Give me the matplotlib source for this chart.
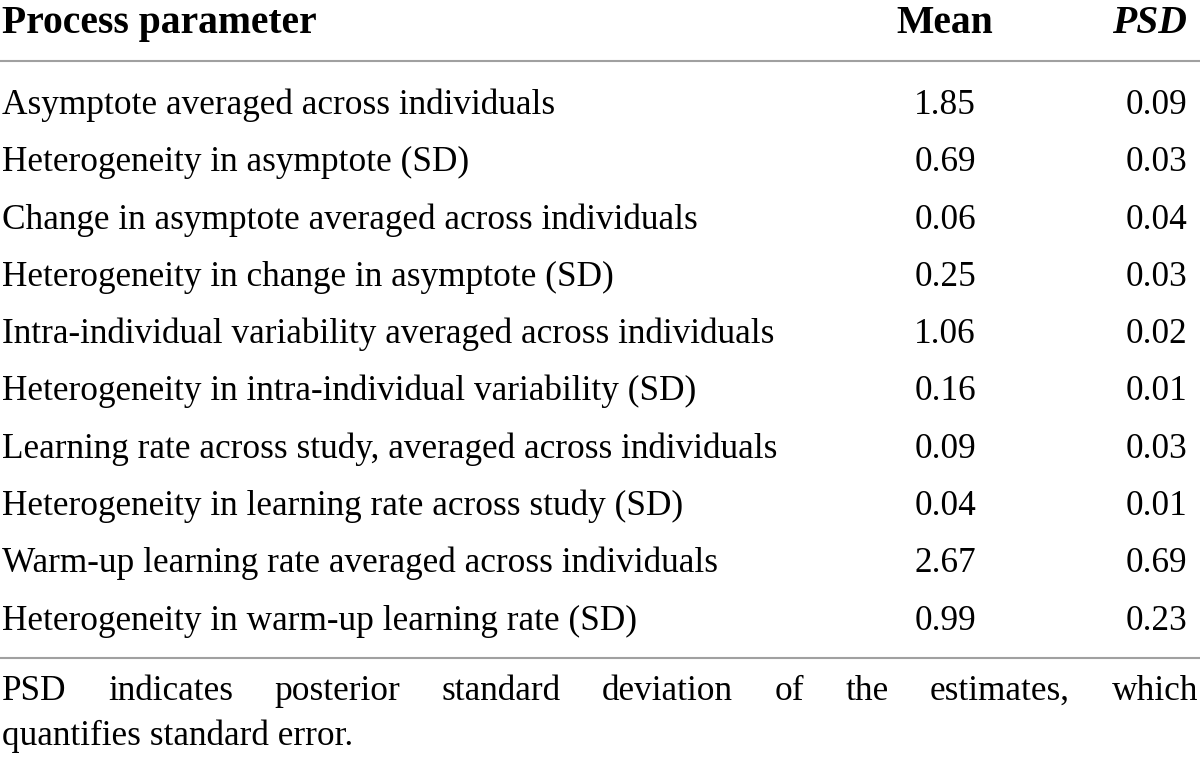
import matplotlib
matplotlib.use("Agg")
import matplotlib.pyplot as plt

plt.rcParams['font.family'] = ['Liberation Serif', 'DejaVu Serif']

header = ["Process parameter", "Mean", "PSD"]
params = [
    "Asymptote averaged across individuals",
    "Heterogeneity in asymptote (SD)",
    "Change in asymptote averaged across individuals",
    "Heterogeneity in change in asymptote (SD)",
    "Intra-individual variability averaged across individuals",
    "Heterogeneity in intra-individual variability (SD)",
    "Learning rate across study, averaged across individuals",
    "Heterogeneity in learning rate across study (SD)",
    "Warm-up learning rate averaged across individuals",
    "Heterogeneity in warm-up learning rate (SD)",
]
means = ["1.85", "0.69", "0.06", "0.25", "1.06", "0.16", "0.09", "0.04", "2.67", "0.99"]
psds = ["0.09", "0.03", "0.04", "0.03", "0.02", "0.01", "0.03", "0.01", "0.69", "0.23"]
footnote_line1 = "PSD indicates posterior standard deviation of the estimates, which"
footnote_line2 = "quantifies standard error."

W, H = 1200, 757
fig = plt.figure(figsize=(W / 100, H / 100), dpi=100)
ax = fig.add_axes([0, 0, 1, 1])
ax.set_xlim(0, W)
ax.set_ylim(H, 0)
ax.set_axis_off()

fs = 25.4
fs_head = 28.5
col_mean = 945
col_psd = 1187

# header (all on one baseline)
ax.text(2, 33, header[0], fontsize=fs_head, fontweight='bold', va='baseline', ha='left')
ax.text(col_mean, 33, header[1], fontsize=fs_head, fontweight='bold', va='baseline', ha='center')
ax.text(col_psd, 33, header[2], fontsize=fs_head, fontweight='bold', style='italic',
        va='baseline', ha='right')

ax.plot([0, W], [61, 61], color='#a0a0a0', lw=1.5)
ax.plot([0, W], [658, 658], color='#a0a0a0', lw=1.5)

row_y0, row_dy = 114, 57.3
for i, (p, m, s) in enumerate(zip(params, means, psds)):
    y = row_y0 + i * row_dy
    ax.text(2, y, p, fontsize=fs, va='baseline', ha='left')
    ax.text(col_mean, y, m, fontsize=fs, va='baseline', ha='center')
    ax.text(col_psd, y, s, fontsize=fs, va='baseline', ha='right')

# justified first footnote line
fig.canvas.draw()
r = fig.canvas.get_renderer()
words = footnote_line1.split()
arts = [ax.text(0, 700, w, fontsize=fs, va='baseline', ha='left') for w in words]
widths = [a.get_window_extent(r).width for a in arts]
gap = (W - 4 - sum(widths)) / (len(words) - 1)
x = 2
for a, w in zip(arts, widths):
    a.set_x(x)
    x += w + gap
ax.text(2, 745, footnote_line2, fontsize=fs, va='baseline', ha='left')

fig.savefig("out.png", dpi=100)
